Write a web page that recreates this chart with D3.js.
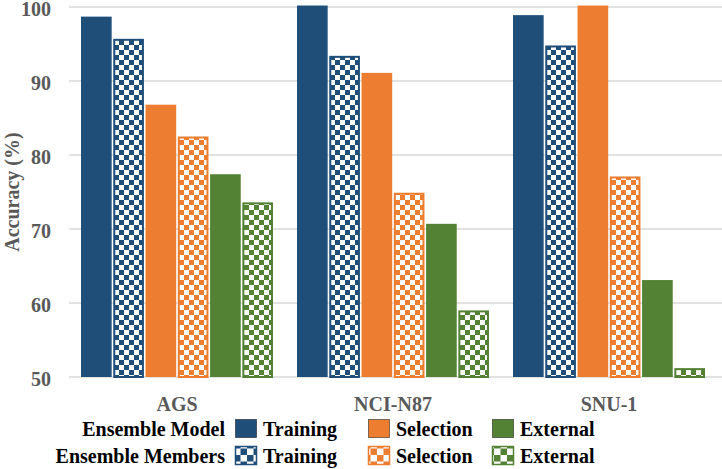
<!DOCTYPE html>
<html><head><meta charset="utf-8">
<script src="https://cdn.jsdelivr.net/npm/d3@7"></script>
<style>html,body{margin:0;padding:0;background:#fff;}svg{display:block;}</style>
</head><body>
<svg id="chart" width="722" height="469"></svg>
<script>
const categories = ["AGS", "NCI-N87", "SNU-1"];
const seriesNames = ["modelTraining", "membersTraining", "modelSelection", "membersSelection", "modelExternal", "membersExternal"];
const modelTraining = [98.7, 100.2, 98.9];
const membersTraining = [95.7, 93.4, 94.8];
const modelSelection = [86.8, 91.1, 100.2];
const membersSelection = [82.5, 74.9, 77.1];
const modelExternal = [77.4, 70.7, 63.1];
const membersExternal = [73.6, 59.0, 51.2];
const yTicks = [50, 60, 70, 80, 90, 100];
const legendRows = ["Ensemble Model", "Ensemble Members"];
const legendItems = ["Training", "Selection", "External"];

const values = {modelTraining, membersTraining, modelSelection, membersSelection, modelExternal, membersExternal};
const colors = {Training: "#1F4E79", Selection: "#ED7D31", External: "#548235"};
const seriesColor = s => s.includes("Training") ? colors.Training : s.includes("Selection") ? colors.Selection : colors.External;
const isChecker = s => s.startsWith("members");

const svg = d3.select("#chart");
const font = "'Liberation Serif', 'Times New Roman', serif";
const defs = svg.append("defs");
function makePattern(id, color, cell) {
  const p = defs.append("pattern").attr("id", id).attr("patternUnits", "userSpaceOnUse")
    .attr("width", cell * 2).attr("height", cell * 2);
  p.append("rect").attr("width", cell * 2).attr("height", cell * 2).attr("fill", "#fff");
  p.append("rect").attr("width", cell).attr("height", cell).attr("fill", color);
  p.append("rect").attr("x", cell).attr("y", cell).attr("width", cell).attr("height", cell).attr("fill", color);
}
Object.entries(colors).forEach(([k, c]) => { makePattern("chk-" + k, c, 5); makePattern("lchk-" + k, c, 6.5); });

const y = d3.scaleLinear().domain([50, 100]).range([377, 7]);
const x0 = d3.scaleBand().domain(categories).range([69, 717]).padding(0);
const x1 = d3.scaleBand().domain(seriesNames).range([12, x0.bandwidth() - 12]).paddingInner(0.05);

// gridlines
svg.append("g").selectAll("line").data(yTicks).join("line")
  .attr("x1", 69).attr("x2", 722).attr("y1", d => y(d)).attr("y2", d => y(d))
  .attr("stroke", "#d9d9d9").attr("stroke-width", 1.3);

// y tick labels
svg.append("g").selectAll("text").data(yTicks).join("text")
  .attr("x", 51).attr("y", d => y(d) + 1.5).attr("dy", "0.35em").attr("text-anchor", "end")
  .attr("font-family", font).attr("font-weight", "bold").attr("font-size", 20).attr("fill", "#595959")
  .text(d => d);

// y title
svg.append("text").attr("transform", "translate(19,192) rotate(-90)").attr("text-anchor", "middle")
  .attr("font-family", font).attr("font-weight", "bold").attr("font-size", 20).attr("fill", "#595959")
  .text("Accuracy (%)");

// bars
const groups = svg.append("g").selectAll("g").data(categories).join("g")
  .attr("transform", d => `translate(${x0(d)},0)`);
groups.each(function(cat, ci) {
  const g = d3.select(this);
  seriesNames.forEach(s => {
    const v = values[s][ci];
    const c = seriesColor(s);
    const key = s.replace(/^(model|members)/, "");
    if (isChecker(s)) {
      g.append("rect").attr("x", x1(s) + 1).attr("y", y(v) + 1)
        .attr("width", x1.bandwidth() - 2).attr("height", y(50) - y(v) - 1)
        .attr("fill", `url(#chk-${key})`).attr("stroke", c).attr("stroke-width", 2);
    } else {
      g.append("rect").attr("x", x1(s)).attr("y", y(v))
        .attr("width", x1.bandwidth()).attr("height", y(50) - y(v))
        .attr("fill", c);
    }
  });
});

// category labels
svg.append("g").selectAll("text").data(categories).join("text")
  .attr("x", d => x0(d) + x0.bandwidth() / 2).attr("y", 411).attr("text-anchor", "middle")
  .attr("font-family", font).attr("font-weight", "bold").attr("font-size", 20).attr("fill", "#595959")
  .text(d => d);

// legend
const legendX = [235, 368, 492];
legendRows.forEach((row, ri) => {
  const top = 419 + ri * 27;
  svg.append("text").attr("x", 225).attr("y", top + 16.5).attr("text-anchor", "end")
    .attr("font-family", font).attr("font-weight", "bold").attr("font-size", 20).attr("fill", "#000")
    .text(row);
  legendItems.forEach((it, ii) => {
    const lx = legendX[ii];
    svg.append("rect").attr("x", lx + 0.5).attr("y", top + 0.5).attr("width", 21).attr("height", 18)
      .attr("fill", ri === 0 ? colors[it] : `url(#lchk-${it})`).attr("stroke", ri === 0 ? "#000" : colors[it])
      .attr("stroke-width", ri === 0 ? 0.8 : 1.5)
      .attr("stroke-opacity", ri === 0 ? 0.6 : 1);
    svg.append("text").attr("x", lx + 28).attr("y", top + 16.5)
      .attr("font-family", font).attr("font-weight", "bold").attr("font-size", 20).attr("fill", "#000")
      .text(it);
  });
});
</script>
</body></html>
